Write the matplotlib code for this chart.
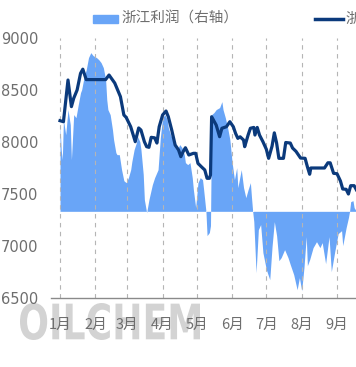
import matplotlib
matplotlib.use("Agg")
import matplotlib.pyplot as plt
from matplotlib.patches import Rectangle, PathPatch
from matplotlib.lines import Line2D
from matplotlib.textpath import TextPath
from matplotlib.font_manager import FontProperties
from matplotlib.transforms import Affine2D, IdentityTransform
import pandas as pd

plt.rcParams['font.family'] = ['Noto Sans CJK SC', 'DejaVu Sans']

YEAR = "2023"

# 浙江价格 (left axis)
price_dates = ["01-01", "01-04", "01-08", "01-11", "01-13", "01-16", "01-19", "01-21", "01-24",
               "02-10", "02-13", "02-18", "02-23", "02-26", "02-28", "03-04", "03-08", "03-11",
               "03-13", "03-16", "03-18", "03-20", "03-22", "03-25", "03-27", "03-29", "04-01",
               "04-04", "04-06", "04-09", "04-12", "04-15", "04-17", "04-19", "04-21", "04-24",
               "04-28", "04-30", "05-02", "05-05", "05-08", "05-10", "05-12", "05-13", "05-14",
               "05-18", "05-21", "05-23", "05-27", "05-30", "06-02", "06-04", "06-06", "06-08",
               "06-11", "06-12", "06-15", "06-17", "06-20", "06-21", "06-23", "06-25", "06-28",
               "07-01", "07-03", "07-06", "07-08", "07-10", "07-12", "07-16", "07-18", "07-22",
               "07-24", "07-27", "07-31", "08-04", "08-06", "08-08", "08-09", "08-21", "08-24",
               "08-26", "08-29", "09-01", "09-04", "09-06", "09-09", "09-11", "09-13", "09-16",
               "09-18"]
price_values = [8205, 8195, 8596, 8340, 8420, 8500, 8660, 8700, 8600,
                8600, 8644, 8567, 8436, 8260, 8237, 8147, 8003, 8135,
                8115, 8003, 7955, 7949, 8045, 8040, 7990, 8147, 8260,
                8298, 8243, 8115, 7971, 7923, 7859, 7907, 7945, 7875,
                7891, 7891, 7795, 7762, 7731, 7651, 7651, 7683, 8243,
                8163, 8051, 8132, 8147, 8195, 8147, 8083, 8035, 8050,
                8019, 7955, 8067, 8132, 8140, 8067, 8140, 8067, 8003,
                7930, 7843, 7960, 8088, 7990, 7843, 7843, 7995, 7990,
                7942, 7910, 7846, 7843, 7762, 7690, 7750, 7750, 7800,
                7800, 7699, 7695, 7625, 7548, 7545, 7500, 7580, 7580,
                7540]

# 浙江利润 (right axis)
profit_dates = ["01-01", "01-02", "01-03", "01-04", "01-06", "01-08", "01-10", "01-11", "01-13",
                "01-15", "01-17", "01-19", "01-20", "01-22", "01-24", "01-26", "01-28", "01-30",
                "02-02", "02-04", "02-06", "02-08", "02-10", "02-11", "02-12", "02-14", "02-16",
                "02-17", "02-19", "02-20", "02-22", "02-24", "02-26", "02-28", "03-02", "03-04",
                "03-05", "03-07", "03-09", "03-10", "03-12", "03-13", "03-15", "03-16", "03-18",
                "03-20", "03-21", "03-23", "03-25", "03-28", "03-30", "04-01", "04-03", "04-05",
                "04-06", "04-08", "04-10", "04-12", "04-14", "04-16", "04-18", "04-20", "04-21",
                "04-23", "04-25", "04-27", "04-28", "04-30", "05-02", "05-04", "05-06", "05-07",
                "05-09", "05-10", "05-12", "05-13", "05-14", "05-16", "05-18", "05-21", "05-23",
                "05-24", "05-26", "05-28", "05-30", "06-01", "06-03", "06-05", "06-06", "06-08",
                "06-09", "06-11", "06-13", "06-15", "06-17", "06-18", "06-19", "06-20", "06-22",
                "06-24", "06-26", "06-28", "07-01", "07-04", "07-06", "07-08", "07-10", "07-12",
                "07-14", "07-17", "07-20", "07-22", "07-25", "07-28", "07-30", "08-01", "08-03",
                "08-05", "08-06", "08-08", "08-11", "08-14", "08-17", "08-19", "08-22", "08-25",
                "08-27", "08-30", "09-02", "09-05", "09-06", "09-09", "09-11", "09-12", "09-13",
                "09-15", "09-16", "09-18"]
profit_values = [1000, 712, 597, 1058, 885, 1174, 1000, 597, 1116,
                 1081, 1231, 1370, 1404, 1543, 1635, 1774, 1831, 1797,
                 1774, 1750, 1716, 1658, 1520, 1289, 1174, 1116, 943,
                 827, 677, 654, 654, 481, 354, 331, 389, 481,
                 573, 712, 793, 862, 804, 712, 427, 135, -15,
                 135, 193, 308, 389, 481, 850, 1081, 1116, 1058,
                 966, 885, 827, 735, 712, 770, 735, 654, 562,
                 539, 562, 389, 250, 43, 331, 389, 366, 250,
                 0, -280, -245, -165, 1116, 1139, 1174, 1197, 1266,
                 1174, 1081, 966, 827, 562, 366, 504, 274, 412,
                 481, 274, 158, 250, 331, 158, 0, -119, -708,
                 -211, -153, -477, -673, -788, -407, -119, -280, -569,
                 -534, -442, -534, -615, -730, -904, -765, -915, -650,
                 -292, -627, -557, -419, -350, -419, -361, -604, -292,
                 -696, -465, -257, -223, -396, -188, -73, 0, 112,
                 123, 43, 0]

month_ticks = ["01-01", "02-01", "03-01", "04-01", "05-01", "06-01", "07-01", "08-01", "09-01"]
month_labels = ["1月", "2月", "3月", "4月", "5月", "6月", "7月", "8月", "9月"]
left_ticks = [6500, 7000, 7500, 8000, 8500, 9000]

legend_area = "浙江利润（右轴）"
legend_line = "浙江价格"
watermark = "OILCHEM"

to_dt = lambda lst: pd.to_datetime([YEAR + "-" + s for s in lst])
pd_dates = to_dt(price_dates)
pf_dates = to_dt(profit_dates)
tick_dates = to_dt(month_ticks)

W, H = 356, 367
fig = plt.figure(figsize=(W / 100, H / 100), dpi=100)
x0, x1 = 50.9, 356.4
y_top, y_bot = 38, 298
ax = fig.add_axes([x0 / W, (H - y_bot) / H, (x1 - x0) / W, (y_bot - y_top) / H])
ax2 = ax.twinx()

AREA_C = "#69a5f7"
LINE_C = "#0b3a7c"
GREY = "#6e6e6e"

# Watermark (stretched text path, behind everything)
tp = TextPath((0, 0), watermark, size=1, prop=FontProperties(family='DejaVu Sans', weight='bold'))
ext = tp.get_extents()
wm_w, wm_h = 180.0, 37.0
sx = wm_w / ext.width
sy = wm_h / ext.height
tr = Affine2D().translate(-ext.x0, -ext.y0).scale(sx, sy).translate(20, H - 340)
wm = PathPatch(tr.transform_path(tp), transform=IdentityTransform(), facecolor='#d3d3d3',
               edgecolor='none', zorder=-10, figure=fig)
fig.patches.append(wm)

ax2.fill_between(pf_dates, 0, profit_values, color=AREA_C, linewidth=0, zorder=1)
ax2.set_ylim(-1000, 2000)
ax2.set_yticks([])
for s in ax2.spines.values():
    s.set_visible(False)
ax2.patch.set_visible(False)

ax.set_zorder(ax2.get_zorder() + 1)
ax.patch.set_visible(False)
ax.plot(pd_dates, price_values, color=LINE_C, linewidth=2.3, solid_joinstyle='round', zorder=5)
ax.set_ylim(6500, 9000)
ax.set_xlim(pd.Timestamp("2022-12-24"), pd.Timestamp("2023-09-18"))
ax.set_yticks(left_ticks)
ax.set_yticklabels([str(v) for v in left_ticks])
ax.set_xticks(tick_dates)
ax.set_xticklabels(month_labels)
ax.tick_params(axis='y', length=0, pad=9, labelsize=10.5, labelcolor=GREY)
ax.tick_params(axis='x', length=0, pad=14, labelsize=10.5, labelcolor=GREY)
for t in ax.get_yticklabels():
    t.set_family(['DejaVu Sans'])
    t.set_fontsize(10.5)
for k in ['top', 'right', 'left']:
    ax.spines[k].set_visible(False)
ax.spines['bottom'].set_color('#8a8a8a')
ax.spines['bottom'].set_linewidth(1.0)
ax.grid(axis='x', linestyle=(0, (4, 4)), color='#b5b5b5', linewidth=0.8)
ax.grid(axis='y', visible=False)

# Legend
fig.patches.append(Rectangle((93 / W, (H - 23) / H), 25 / W, 8 / H, transform=fig.transFigure,
                             color=AREA_C, figure=fig))
fig.text(122 / W, (H - 19) / H, legend_area, fontsize=10.5, color=GREY, va='center', ha='left')
fig.lines.append(Line2D([315 / W, 343 / W], [(H - 19) / H, (H - 19) / H], transform=fig.transFigure,
                        color=LINE_C, linewidth=2.5, figure=fig))
fig.text(345 / W, (H - 19) / H, legend_line, fontsize=10.5, color=GREY, va='center', ha='left')

fig.savefig("out.png", dpi=100)
